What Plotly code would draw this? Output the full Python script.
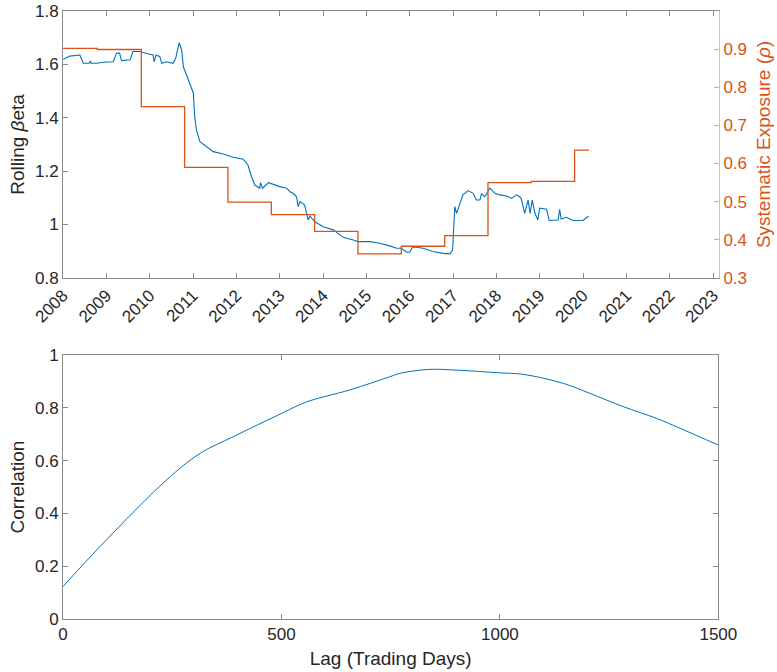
import plotly.graph_objects as go

# Rolling beta (left axis, top panel)
beta_dates = [
    "2008-01-02", "2008-02-28", "2008-05-22", "2008-06-20", "2008-08-10", "2008-08-18",
    "2008-08-26", "2008-10-12", "2008-12-05", "2009-02-28", "2009-03-27", "2009-04-22",
    "2009-05-08", "2009-07-20", "2009-08-12", "2009-10-12", "2009-12-20", "2010-01-30",
    "2010-02-06", "2010-02-24", "2010-03-28", "2010-04-12", "2010-05-22", "2010-07-16",
    "2010-08-08", "2010-09-06", "2010-09-27", "2010-10-12", "2010-11-07", "2010-12-05",
    "2011-01-04", "2011-01-15", "2011-01-30", "2011-02-28", "2011-04-23", "2011-06-20",
    "2011-09-13", "2011-12-06", "2012-02-28", "2012-04-08", "2012-05-08", "2012-06-05",
    "2012-07-16", "2012-07-22", "2012-08-08", "2012-09-28", "2013-01-01", "2013-02-28",
    "2013-03-28", "2013-04-23", "2013-05-22", "2013-06-05", "2013-06-20", "2013-07-30",
    "2013-08-28", "2013-09-13", "2013-10-22", "2014-01-01", "2014-03-28", "2014-06-20",
    "2014-09-13", "2014-10-22", "2015-01-30", "2015-04-23", "2015-07-16", "2015-09-13",
    "2015-10-22", "2015-12-06", "2016-01-01", "2016-01-25", "2016-02-28", "2016-04-23",
    "2016-07-16", "2016-10-08", "2016-12-06", "2016-12-28", "2017-01-08", "2017-01-15",
    "2017-01-30", "2017-02-28", "2017-03-25", "2017-05-08", "2017-06-18", "2017-07-16",
    "2017-08-15", "2017-08-28", "2017-09-25", "2017-11-07", "2017-12-20", "2018-01-30",
    "2018-03-28", "2018-05-08", "2018-06-20", "2018-07-16", "2018-07-28", "2018-08-28",
    "2018-09-25", "2018-10-12", "2018-10-30", "2018-11-22", "2018-12-16", "2019-01-01",
    "2019-02-28", "2019-03-22", "2019-06-05", "2019-06-18", "2019-07-01", "2019-08-15",
    "2019-10-08", "2020-01-01", "2020-02-02", "2020-02-20",
]
beta_values = [
    1.619, 1.631, 1.635, 1.604, 1.604, 1.613,
    1.604, 1.604, 1.608, 1.610, 1.642, 1.642,
    1.614, 1.617, 1.648, 1.648, 1.639, 1.635,
    1.610, 1.635, 1.629, 1.604, 1.610, 1.604,
    1.623, 1.681, 1.654, 1.590, 1.560, 1.529,
    1.492, 1.404, 1.354, 1.310, 1.292, 1.273,
    1.264, 1.252, 1.245, 1.223, 1.179, 1.148,
    1.136, 1.157, 1.136, 1.157, 1.142, 1.136,
    1.123, 1.117, 1.104, 1.067, 1.086, 1.073,
    1.017, 1.032, 1.011, 0.992, 0.980, 0.952,
    0.942, 0.936, 0.936, 0.930, 0.920, 0.911,
    0.911, 0.896, 0.896, 0.915, 0.915, 0.911,
    0.899, 0.892, 0.890, 0.905, 1.005, 1.067,
    1.042, 1.080, 1.111, 1.127, 1.117, 1.092,
    1.092, 1.115, 1.104, 1.136, 1.117, 1.111,
    1.107, 1.098, 1.111, 1.104, 1.098, 1.042,
    1.092, 1.042, 1.092, 1.042, 1.017, 1.061,
    1.057, 1.015, 1.017, 1.057, 1.021, 1.027,
    1.015, 1.015, 1.027, 1.030,
]

# Systematic exposure rho (right axis, step changes)
rho_dates = [
    "2008-01-01", "2008-10-15", "2009-10-22", "2010-10-22", "2011-10-22", "2012-10-22",
    "2013-10-22", "2014-10-22", "2015-10-22", "2016-10-22", "2017-10-22", "2018-10-22",
    "2019-10-22", "2020-02-20",
]
rho_values = [
    0.902, 0.899, 0.749, 0.590, 0.499, 0.466,
    0.422, 0.363, 0.383, 0.411, 0.550, 0.553,
    0.635, 0.635,
]

# Lagged correlation (bottom panel)
lag_days = [0, 85, 237, 314, 390, 500, 558, 656, 748, 771, 840, 901, 1000,
            1054, 1145, 1206, 1282, 1359, 1412, 1500]
correlation = [0.123, 0.275, 0.527, 0.628, 0.691, 0.779, 0.823, 0.868, 0.918, 0.931,
               0.946, 0.943, 0.933, 0.927, 0.893, 0.855, 0.805, 0.760, 0.723, 0.659]

BLUE = "#0072BD"
ORANGE = "#D95319"
AXIS = "#8a8a8a"
TEXT = "#262626"
FONT = "Liberation Sans, Arial, sans-serif"

fig = go.Figure()
fig.add_trace(go.Scatter(x=beta_dates, y=beta_values, mode="lines",
                         line=dict(color=BLUE, width=1.1), xaxis="x", yaxis="y",
                         showlegend=False))
fig.add_trace(go.Scatter(x=rho_dates, y=rho_values, mode="lines",
                         line=dict(color=ORANGE, width=1.3, shape="hv"),
                         xaxis="x", yaxis="y2", showlegend=False))
fig.add_trace(go.Scatter(x=lag_days, y=correlation, mode="lines",
                         line=dict(color=BLUE, width=1, shape="spline"),
                         xaxis="x2", yaxis="y3", showlegend=False))

common = dict(showline=True, linecolor=AXIS, linewidth=1, ticks="inside",
              tickcolor=AXIS, ticklen=5, showgrid=False, zeroline=False,
              automargin=False,
              tickfont=dict(family=FONT, size=17, color=TEXT))

fig.update_layout(
    width=777, height=672,
    margin=dict(l=63, r=58, t=11, b=53, autoexpand=False),
    paper_bgcolor="white", plot_bgcolor="white",
    font=dict(family=FONT, color=TEXT),
    xaxis=dict(**common, type="date", domain=[0, 1], anchor="y",
               range=["2008-01-01", "2023-02-20"], tick0="2008-01-01", dtick="M12",
               tickformat="%Y", tickangle=-45, mirror="ticks"),
    yaxis=dict(**common, domain=[0.561, 1.0], anchor="x", range=[0.8, 1.8],
               dtick=0.2, tick0=0.8,
               title=dict(text="Rolling <i>β</i>eta", standoff=5,
                          font=dict(family=FONT, size=19, color=TEXT))),
    yaxis2=dict(showline=True, linecolor="#f2b9a2", linewidth=1, ticks="inside",
                tickcolor="#eea184", ticklen=5, showgrid=False, zeroline=False,
                automargin=False,
                overlaying="y", side="right", anchor="x", range=[0.3, 1.0],
                tickvals=[0.3, 0.4, 0.5, 0.6, 0.7, 0.8, 0.9],
                tickfont=dict(family=FONT, size=17, color=ORANGE),
                title=dict(text="Systematic Exposure (<i>ρ</i>)", standoff=10,
                           font=dict(family=FONT, size=19, color=ORANGE))),
    xaxis2=dict(**common, domain=[0, 0.999], anchor="y3", range=[0, 1500],
                tickvals=[0, 500, 1000, 1500], mirror="ticks",
                title=dict(text="Lag (Trading Days)", standoff=8,
                           font=dict(family=FONT, size=19, color=TEXT))),
    yaxis3=dict(**common, domain=[0, 0.434], anchor="x2", range=[0, 1],
                dtick=0.2, mirror="ticks",
                title=dict(text="Correlation", standoff=5,
                           font=dict(family=FONT, size=19, color=TEXT))),
)

fig.write_html("out.html")
